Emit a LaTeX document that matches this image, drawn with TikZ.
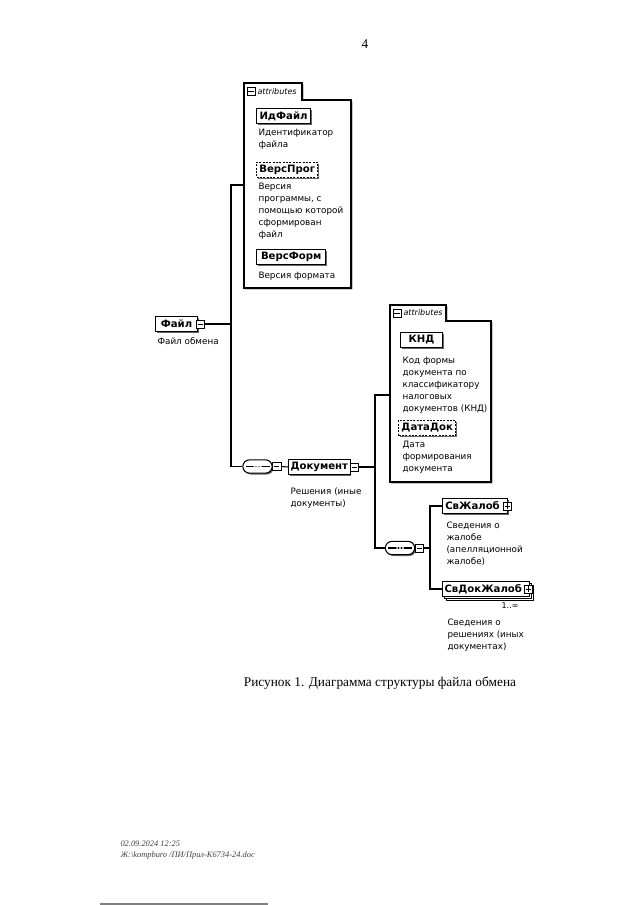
\documentclass[tikz,border=0pt]{standalone}
\usepackage{fontspec}
\setmainfont{Liberation Serif}
\newfontfamily\diagfont{DejaVu Sans}
\usetikzlibrary{shapes.misc,shadows}
\tikzset{
  basebox/.style={draw,fill=white,font=\diagfont\bfseries\fontsize{7.6}{8}\selectfont,
    inner sep=1.5pt,minimum height=11.5pt,anchor=west},
  elem/.style={basebox,drop shadow={shadow xshift=1pt,shadow yshift=-1pt,fill=black!60,opacity=1}},
  optelem/.style={elem,dash pattern=on 1.5pt off 1pt},
  multelem/.style={basebox,double copy shadow={shadow xshift=1.6pt,shadow yshift=-1.6pt}},
  desc/.style={anchor=north west,align=left,inner sep=0pt,font=\diagfont\fontsize{6.6}{9}\selectfont},
  iconbox/.style={draw,fill=white,minimum size=6.2pt,inner sep=0pt,line width=0.5pt},
  minusicon/.style={iconbox,
    path picture={\draw ([xshift=1.2pt]path picture bounding box.west) -- ([xshift=-1.2pt]path picture bounding box.east);}},
  plusicon/.style={iconbox,
    path picture={\draw ([xshift=1.2pt]path picture bounding box.west) -- ([xshift=-1.2pt]path picture bounding box.east);
      \draw ([yshift=-1.2pt]path picture bounding box.north) -- ([yshift=1.2pt]path picture bounding box.south);}},
  seqbox/.style={rounded rectangle,draw,fill=white,minimum width=22pt,minimum height=10pt,inner sep=0pt,
    drop shadow={shadow xshift=1pt,shadow yshift=-1pt,fill=black!60,opacity=1},
    path picture={
      \draw ([xshift=2pt]path picture bounding box.west) -- ([xshift=-2pt]path picture bounding box.east);
      \foreach \d in {-2.2pt,0pt,2.2pt} \fill ([xshift=\d]path picture bounding box.center) circle[radius=0.8pt];}},
  attrbox/.style={draw,fill=white,drop shadow={shadow xshift=1pt,shadow yshift=-1pt,fill=black!60,opacity=1}},
  tabtext/.style={anchor=west,inner sep=0pt,font=\diagfont\itshape\fontsize{6}{7}\selectfont}
}
\begin{document}
\begin{tikzpicture}[x=0.75pt,y=-0.75pt,line width=0.8pt]
\useasboundingbox (0,0) rectangle (640,905);
\node (pagenum) at (365,44) {4};
\draw[attrbox] (244,288) -- (244,83) -- (302,83) -- (302,100) -- (351,100) -- (351,288) -- cycle;
\node[minusicon] (attrAicon) at (251,91.5) {};
\node[tabtext] (attrAtab) at (257,91.5) {attributes};
\node[elem,minimum width=40.5pt] (idfajl) at (256,116) {ИдФайл};
\node[desc] (idfajldesc) at (258,129) {Идентификатор\\файла};
\node[optelem,minimum width=46pt] (versprog) at (256,170) {ВерсПрог};
\node[desc] (versprogdesc) at (258,183) {Версия\\программы, с\\помощью которой\\сформирован\\файл};
\node[elem,minimum width=52pt] (versform) at (256,257) {ВерсФорм};
\node[desc] (versformdesc) at (258,272) {Версия формата};
\node[elem,minimum width=31.5pt] (fajl) at (155,324) {Файл};
\node[minusicon] (fajlicon) at ([xshift=1.5pt]fajl.east) {};
\node[desc] (fajldesc) at (157,337) {Файл обмена};
\coordinate (hookA) at (244,185);
\coordinate (trunkA) at (231,185);
\node[seqbox] (seqA) at (257.5,466.5) {};
\node[minusicon] (seqAicon) at ([xshift=3pt]seqA.east) {};
\node[elem,minimum width=45pt] (dokument) at (288,467) {Документ};
\node[minusicon] (dokicon) at ([xshift=3pt]dokument.east) {};
\node[desc] (dokumentdesc) at (290,487) {Решения (иные\\документы)};
\draw (fajlicon.east) -- (fajlicon.east -| trunkA);
\draw (hookA) -- (trunkA) |- (seqA.west);
\draw (seqAicon.east) -- (dokument.west);
\draw[attrbox] (390,482) -- (390,305) -- (446,305) -- (446,321) -- (491,321) -- (491,482) -- cycle;
\node[minusicon] (attrBicon) at (397,313) {};
\node[tabtext] (attrBtab) at (403,313) {attributes};
\node[elem,minimum width=31.5pt] (knd) at (400,340) {КНД};
\node[desc] (knddesc) at (402,357) {Код формы\\документа по\\классификатору\\налоговых\\документов (КНД)};
\node[optelem,minimum width=43pt] (datadok) at (398,428) {ДатаДок};
\node[desc] (datadokdesc) at (402,441) {Дата\\формирования\\документа};
\coordinate (hookB) at (390,395);
\coordinate (trunkB) at (375,395);
\node[seqbox] (seqB) at (400,548) {};
\node[minusicon] (seqBicon) at ([xshift=3pt]seqB.east) {};
\coordinate (fork) at (430,548);
\draw (dokicon.east) -- (dokicon.east -| trunkB);
\draw (hookB) -- (trunkB) |- (seqB.west);
\draw (seqBicon.east) -- (fork);
\node[elem,minimum width=49pt] (svzhalob) at (442,506) {СвЖалоб\kern4pt};
\node[plusicon] (svzhalobicon) at ([xshift=-1pt]svzhalob.east) {};
\node[desc] (svzhalobdesc) at (446,521) {Сведения о\\жалобе\\(апелляционной\\жалобе)};
\node[multelem,minimum width=56pt] (svdokzhalob) at (442,589) {СвДокЖалоб\kern4pt};
\node[plusicon] (svdokzhalobicon) at ([xshift=-1pt]svdokzhalob.east) {};
\node[anchor=east,inner sep=0pt,font=\diagfont\fontsize{6}{7}\selectfont] (svdokzhalobmult) at (519,606) {1..∞};
\node[desc] (svdokzhalobdesc) at (447,618) {Сведения о\\решениях (иных\\документах)};
\draw (svzhalob.west) -| (fork) |- (svdokzhalob.west);
\node (caption) at (380,683) {Рисунок 1. Диаграмма структуры файла обмена};
\node[anchor=west,align=left,inner sep=0pt,text=black!75,font=\itshape\fontsize{6.3}{8}\selectfont] (footer) at (120,850) {02.09.2024 12:25\\Ж:\textbackslash kompburo /ПИ/Прил-К6734-24.doc};
\draw[black!50,line width=1.2pt] (100,904) -- (268,904);
\end{tikzpicture}
\end{document}
